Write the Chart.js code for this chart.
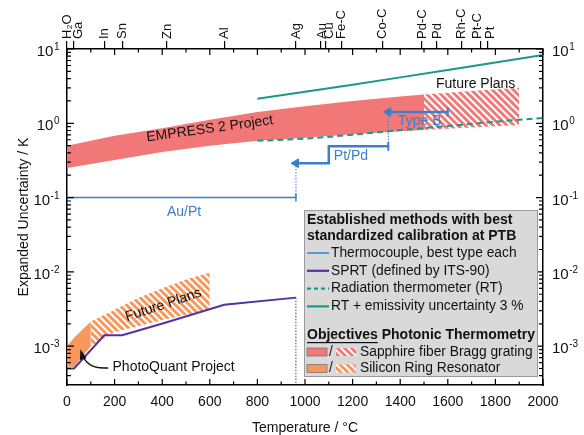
<!DOCTYPE html>
<html>
<head>
<meta charset="utf-8">
<script src="https://cdn.jsdelivr.net/npm/chart.js@4.4.0/dist/chart.umd.min.js"></script>
<style>
  html, body { margin: 0; padding: 0; background: #fff; }
  #wrap { width: 584px; height: 435px; }
</style>
</head>
<body>
<div id="wrap"><canvas id="chart"></canvas></div>
<script>
const FONT = '"Liberation Sans", Arial, sans-serif';

// fixed points shown on the top axis
const fixedPointT = [0.01, 29.76, 156.6, 231.93, 419.53, 660.32, 961.78, 1064.18, 1084.62, 1153, 1324, 1492, 1555, 1657, 1738, 1768];
const fixedPointNames = ['H₂O', 'Ga', 'In', 'Sn', 'Zn', 'Al', 'Ag', 'Au', 'Cu', 'Fe-C', 'Co-C', 'Pd-C', 'Pd', 'Rh-C', 'Pt-C', 'Pt'];

// axes
const xTicks = [0, 200, 400, 600, 800, 1000, 1200, 1400, 1600, 1800, 2000];
const yDecades = [1e-3, 1e-2, 1e-1, 1, 10];
const yDecadeExp = ['-3', '-2', '-1', '0', '1'];
const yMin = 3.2e-4, yMax = 10;

// SPRT (ITS-90)
const sprtT = [0.01, 29.76, 156.6, 231.93, 419.53, 660.32, 961.78];
const sprtU = [5e-4, 5e-4, 1.4e-3, 1.4e-3, 2.1e-3, 3.6e-3, 4.5e-3];

// thermocouples
const auPtT = [0, 962];
const auPtU = [0.1, 0.1];
const ptPdT = [962, 1100, 1100, 1350];
const ptPdU = [0.29, 0.29, 0.49, 0.49];
const typeBT = [1350, 1600];
const typeBU = [1.42, 1.42];

// radiation thermometry
const rtT = [800, 1000, 1200, 1400, 1600, 1800, 2000];
const rtU = [0.58, 0.62, 0.70, 0.81, 0.92, 1.05, 1.18];
const rtEmisU = [2.14, 2.65, 3.3, 4.15, 5.2, 6.6, 8.3];

// EMPRESS 2 band (sapphire fiber Bragg grating)
const empressT = [0, 200, 400, 600, 800, 1000, 1200, 1400, 1500];
const empressHigh = [0.5, 0.68, 0.86, 1.12, 1.42, 1.7, 2.0, 2.3, 2.45];
const empressLow = [0.25, 0.32, 0.41, 0.5, 0.58, 0.64, 0.71, 0.78, 0.81];
const empressFutureT = [1500, 1700, 1900];
const empressFutureHigh = [2.45, 2.72, 3.0];
const empressFutureLow = [0.81, 0.88, 0.95];

// PhotoQuant band (silicon ring resonator)
const pqT = [0, 30, 100];
const pqHigh = [1.0e-3, 1.3e-3, 2.15e-3];
const pqLow = [5.3e-4, 5.3e-4, 1.0e-3];
const pqFutureT = [100, 200, 300, 400, 500, 600];
const pqFutureHigh = [2.15e-3, 3.1e-3, 4.5e-3, 6.0e-3, 7.9e-3, 9.8e-3];
const pqFutureLow = [1.0e-3, 1.55e-3, 1.85e-3, 2.25e-3, 2.65e-3, 3.07e-3];

const BLUE = '#3c7fcc';
const PURPLE = '#5431a0';
const TEAL = '#17998b';
const SALMON = '#f27878';
const ORANGE = '#f7975b';

// small sideways nudges so that neighbouring fixed point names don't collide
const labelNudge = { 'Ga': 4, 'Au': 2, 'Cu': 4, 'Pt-C': -4, 'Pt': 2 };

function pts(xs, ys) {
    return xs.map((t, i) => ({ x: t, y: ys[i] }));
}

function hatch(color) {
    const c = document.createElement('canvas');
    c.width = c.height = 7;
    const g = c.getContext('2d');
    g.fillStyle = color;
    g.fillRect(0, 0, 7, 7);
    g.strokeStyle = '#fff';
    g.lineWidth = 2;
    g.beginPath();
    g.moveTo(-1, -1); g.lineTo(8, 8);
    g.moveTo(-4.5, 2.5); g.lineTo(4.5, 11.5);
    g.moveTo(2.5, -4.5); g.lineTo(11.5, 4.5);
    g.stroke();
    return g.createPattern(c, 'repeat');
}
const salmonHatch = hatch(SALMON);
const orangeHatch = hatch(ORANGE);

// text annotations in data coordinates
const notes = [
    { text: 'EMPRESS 2 Project', t: 600, u: 0.84, rot: -7.8, color: '#111' },
    { text: 'Future Plans', t: 1717, u: 3.4, rot: 0, color: '#111' },
    { text: 'Type B', t: 1482, u: 1.08, rot: 0, color: BLUE },
    { text: 'Pt/Pd', t: 1193, u: 0.36, rot: 0, color: BLUE },
    { text: 'Au/Pt', t: 492, u: 0.064, rot: 0, color: BLUE },
    { text: 'Future Plans', t: 405, u: 3.58e-3, rot: -18.5, color: '#111' },
    { text: 'PhotoQuant Project', t: 448, u: 5.2e-4, rot: 0, color: '#111' },
];

const frameTicks = {
    id: 'frameTicks',
    afterDraw(chart) {
        const { ctx, chartArea: a, scales: { x, y } } = chart;
        ctx.save();
        ctx.strokeStyle = '#000';
        ctx.lineWidth = 1.2;
        ctx.beginPath();
        for (let t = 0; t <= 2000; t += 100) {
            const px = x.getPixelForValue(t);
            const len = xTicks.includes(t) ? 6 : 3.5;
            ctx.moveTo(px, a.bottom); ctx.lineTo(px, a.bottom - len);
            ctx.moveTo(px, a.top); ctx.lineTo(px, a.top + len);
        }
        for (let e = -4; e <= 1; e++) {
            for (let m = 1; m <= 9; m++) {
                const v = m * Math.pow(10, e);
                if (v < yMin || v > yMax * 1.0001) continue;
                const py = y.getPixelForValue(v);
                const len = m === 1 ? 7 : 4;
                ctx.moveTo(a.left, py); ctx.lineTo(a.left + len, py);
                ctx.moveTo(a.right, py); ctx.lineTo(a.right - len, py);
            }
        }
        ctx.stroke();

        // decade labels 10^n on both sides
        ctx.fillStyle = '#111';
        yDecades.forEach((v, i) => {
            const py = y.getPixelForValue(v);
            ctx.font = '10px ' + FONT;
            const ew = ctx.measureText(yDecadeExp[i]).width;
            ctx.font = '15px ' + FONT;
            const bw = ctx.measureText('10').width;
            ctx.textAlign = 'left';
            [a.left - 8 - ew - bw, a.right + 9].forEach(x0 => {
                ctx.font = '15px ' + FONT;
                ctx.textBaseline = 'middle';
                ctx.fillText('10', x0, py + 3);
                ctx.font = '10px ' + FONT;
                ctx.textBaseline = 'alphabetic';
                ctx.fillText(yDecadeExp[i], x0 + bw + 0.5, py + 1);
            });
        });

        // fixed point names on the top axis, reading upwards
        ctx.font = '13px ' + FONT;
        ctx.textAlign = 'left';
        ctx.textBaseline = 'middle';
        fixedPointT.forEach((t, i) => {
            const name = fixedPointNames[i];
            ctx.save();
            ctx.translate(x.getPixelForValue(t) + (labelNudge[name] || 0), a.top - 10);
            ctx.rotate(-Math.PI / 2);
            ctx.fillText(name, 0, 0.5);
            ctx.restore();
        });
        ctx.restore();
    }
};

const annotations = {
    id: 'annotations',
    afterDatasetsDraw(chart) {
        const { ctx, scales: { x, y } } = chart;
        ctx.save();
        ctx.font = '14px ' + FONT;
        ctx.textAlign = 'center';
        ctx.textBaseline = 'middle';
        notes.forEach(n => {
            ctx.save();
            ctx.translate(x.getPixelForValue(n.t), y.getPixelForValue(n.u));
            ctx.rotate(n.rot * Math.PI / 180);
            ctx.fillStyle = n.color;
            ctx.fillText(n.text, 0, 0);
            ctx.restore();
        });
        // curved arrow from the PhotoQuant label into the orange band
        const sx = x.getPixelForValue(173), sy = y.getPixelForValue(5.1e-4);
        const cx = x.getPixelForValue(81), cy = y.getPixelForValue(4.8e-4);
        const ex = x.getPixelForValue(60), ey = y.getPixelForValue(8.3e-4);
        ctx.strokeStyle = '#111';
        ctx.fillStyle = '#111';
        ctx.lineWidth = 1.5;
        ctx.beginPath();
        ctx.moveTo(sx, sy);
        ctx.quadraticCurveTo(cx, cy, ex, ey);
        ctx.stroke();
        const ang = Math.atan2(ey - cy, ex - cx);
        ctx.beginPath();
        ctx.moveTo(ex + Math.cos(ang) * 3, ey + Math.sin(ang) * 3);
        ctx.lineTo(ex - Math.cos(ang - 0.45) * 8, ey - Math.sin(ang - 0.45) * 8);
        ctx.lineTo(ex - Math.cos(ang + 0.45) * 8, ey - Math.sin(ang + 0.45) * 8);
        ctx.closePath();
        ctx.fill();
        ctx.restore();
    }
};

const legendBox = {
    id: 'legendBox',
    afterDraw(chart) {
        const ctx = chart.ctx;
        const L = 304, T = 210, W = 234, H = 167;
        ctx.save();
        ctx.fillStyle = '#d9d9d9';
        ctx.strokeStyle = '#9a9a9a';
        ctx.lineWidth = 1;
        ctx.fillRect(L, T, W, H);
        ctx.strokeRect(L + 0.5, T + 0.5, W - 1, H - 1);

        ctx.fillStyle = '#111';
        ctx.textBaseline = 'middle';
        ctx.textAlign = 'left';
        ctx.font = 'bold 14px ' + FONT;
        ctx.fillText('Established methods with best', L + 3, T + 10);
        ctx.fillText('standardized calibration at PTB', L + 3, T + 26);

        const rows = [
            { text: 'Thermocouple, best type each', color: BLUE, w: 1.5, dash: [] },
            { text: 'SPRT (defined by ITS-90)', color: PURPLE, w: 2.2, dash: [] },
            { text: 'Radiation thermometer (RT)', color: TEAL, w: 2.2, dash: [4, 3] },
            { text: 'RT + emissivity uncertainty 3 %', color: TEAL, w: 2.2, dash: [] },
        ];
        ctx.font = '13.8px ' + FONT;
        rows.forEach((r, i) => {
            const yy = T + 43 + i * 17.8;
            ctx.strokeStyle = r.color;
            ctx.lineWidth = r.w;
            ctx.setLineDash(r.dash);
            ctx.beginPath();
            ctx.moveTo(L + 3, yy); ctx.lineTo(L + 25, yy);
            ctx.stroke();
            ctx.setLineDash([]);
            ctx.fillText(r.text, L + 27, yy);
        });

        ctx.font = 'bold 14px ' + FONT;
        const oy = T + 125;
        ctx.fillText('Objectives', L + 3, oy);
        const ow = ctx.measureText('Objectives').width;
        ctx.fillRect(L + 3, oy + 7, ow, 1.2);
        ctx.fillText(' Photonic Thermometry', L + 3 + ow, oy);

        const swatches = [
            { text: 'Sapphire fiber Bragg grating', solid: SALMON, pat: salmonHatch },
            { text: 'Silicon Ring Resonator', solid: ORANGE, pat: orangeHatch },
        ];
        ctx.font = '13.8px ' + FONT;
        swatches.forEach((s, i) => {
            const yy = T + 142 + i * 16.5;
            ctx.fillStyle = s.solid;
            ctx.fillRect(L + 3, yy - 4, 20, 8);
            ctx.strokeStyle = '#777';
            ctx.lineWidth = 0.8;
            ctx.strokeRect(L + 3, yy - 4, 20, 8);
            ctx.fillStyle = '#111';
            ctx.fillText('/', L + 25, yy);
            ctx.fillStyle = s.pat;
            ctx.fillRect(L + 32, yy - 4, 20, 8);
            ctx.fillStyle = '#111';
            ctx.fillText(s.text, L + 56, yy);
        });
        ctx.restore();
    }
};

const ctx = document.getElementById('chart').getContext('2d');
new Chart(ctx, {
    type: 'line',
    data: {
        datasets: [
            { data: pts(rtT, rtEmisU), borderColor: TEAL, borderWidth: 2, order: 1 },
            { data: pts(rtT, rtU), borderColor: TEAL, borderWidth: 2, borderDash: [6, 4], order: 1 },
            { data: pts(sprtT, sprtU), borderColor: PURPLE, borderWidth: 2, order: 1 },
            { data: pts([961.78, 961.78], [4.5e-3, yMin]), borderColor: PURPLE, borderWidth: 1, borderDash: [1.5, 1.5], order: 1 },
            {
                data: pts(auPtT, auPtU), borderColor: BLUE, borderWidth: 1.5, order: 1,
                pointStyle: 'line', pointRadius: [0, 4], pointRotation: 90, pointBorderColor: BLUE, pointBorderWidth: 1.5,
            },
            { data: pts([962, 962], [0.1, 0.29]), borderColor: BLUE, borderWidth: 1, borderDash: [1.5, 1.5], order: 1 },
            {
                data: pts(ptPdT, ptPdU), borderColor: BLUE, borderWidth: 2.5, order: 1,
                pointStyle: ['triangle', 'line', 'line', 'line'], pointRadius: [5, 0, 0, 4.5], pointRotation: [-90, 0, 0, 90],
                pointBackgroundColor: BLUE, pointBorderColor: BLUE, pointBorderWidth: [1, 0, 0, 2],
            },
            { data: pts([1350, 1350], [0.49, 1.42]), borderColor: BLUE, borderWidth: 1, borderDash: [1.5, 1.5], order: 1 },
            {
                data: pts(typeBT, typeBU), borderColor: BLUE, borderWidth: 2.5, order: 1,
                pointStyle: ['triangle', 'line'], pointRadius: [5, 4.5], pointRotation: [-90, 90],
                pointBackgroundColor: BLUE, pointBorderColor: BLUE, pointBorderWidth: [1, 2],
            },
            { data: pts(empressT, empressHigh), borderWidth: 0, backgroundColor: SALMON, fill: '+1', order: 2 },
            { data: pts(empressT, empressLow), borderWidth: 0, order: 2 },
            { data: pts(empressFutureT, empressFutureHigh), borderWidth: 0, backgroundColor: salmonHatch, fill: '+1', order: 2 },
            { data: pts(empressFutureT, empressFutureLow), borderWidth: 0, order: 2 },
            { data: pts(pqT, pqHigh), borderWidth: 0, backgroundColor: ORANGE, fill: '+1', order: 2 },
            { data: pts(pqT, pqLow), borderWidth: 0, order: 2 },
            { data: pts(pqFutureT, pqFutureHigh), borderWidth: 0, backgroundColor: orangeHatch, fill: '+1', order: 2 },
            { data: pts(pqFutureT, pqFutureLow), borderWidth: 0, order: 2 },
        ],
    },
    options: {
        responsive: true,
        maintainAspectRatio: false,
        animation: false,
        layout: { padding: 0 },
        elements: {
            line: { tension: 0, borderColor: 'rgba(0,0,0,0)' },
            point: { radius: 0 },
        },
        plugins: {
            legend: { display: false },
            tooltip: { enabled: false },
        },
        scales: {
            x: {
                type: 'linear',
                position: 'bottom',
                min: 0,
                max: 2000,
                afterBuildTicks: s => { s.ticks = xTicks.map(v => ({ value: v })); },
                afterFit: s => { s.height = 50; },
                grid: { display: false, drawTicks: false },
                border: { color: '#000', width: 1.5 },
                ticks: { color: '#111', padding: 9, maxRotation: 0, font: { family: FONT, size: 14 }, callback: v => String(v) },
                title: {
                    display: true, text: 'Temperature / °C', color: '#111',
                    font: { family: FONT, size: 14, lineHeight: 1 }, padding: { top: 0, bottom: 0 },
                },
            },
            x2: {
                type: 'linear',
                position: 'top',
                min: 0,
                max: 2000,
                afterBuildTicks: s => { s.ticks = fixedPointT.map(v => ({ value: v })); },
                afterFit: s => { s.height = 49; },
                grid: { display: true, drawOnChartArea: false, drawTicks: true, tickLength: 8, color: '#000', lineWidth: 1.2 },
                border: { color: '#000', width: 1.5 },
                ticks: { display: false },
            },
            y: {
                type: 'logarithmic',
                position: 'left',
                min: yMin,
                max: yMax,
                afterFit: s => { s.width = 67; },
                grid: { display: false },
                border: { color: '#000', width: 1.5 },
                ticks: { display: false },
                title: {
                    display: true, text: 'Expanded Uncertainty / K', color: '#111',
                    font: { family: FONT, size: 14, lineHeight: 1 }, padding: { top: 17, bottom: 0 },
                },
            },
            y2: {
                type: 'logarithmic',
                position: 'right',
                min: yMin,
                max: yMax,
                afterFit: s => { s.width = 41; },
                grid: { display: false },
                border: { color: '#000', width: 1.5 },
                ticks: { display: false },
            },
        },
    },
    plugins: [annotations, frameTicks, legendBox],
});
</script>
</body>
</html>
